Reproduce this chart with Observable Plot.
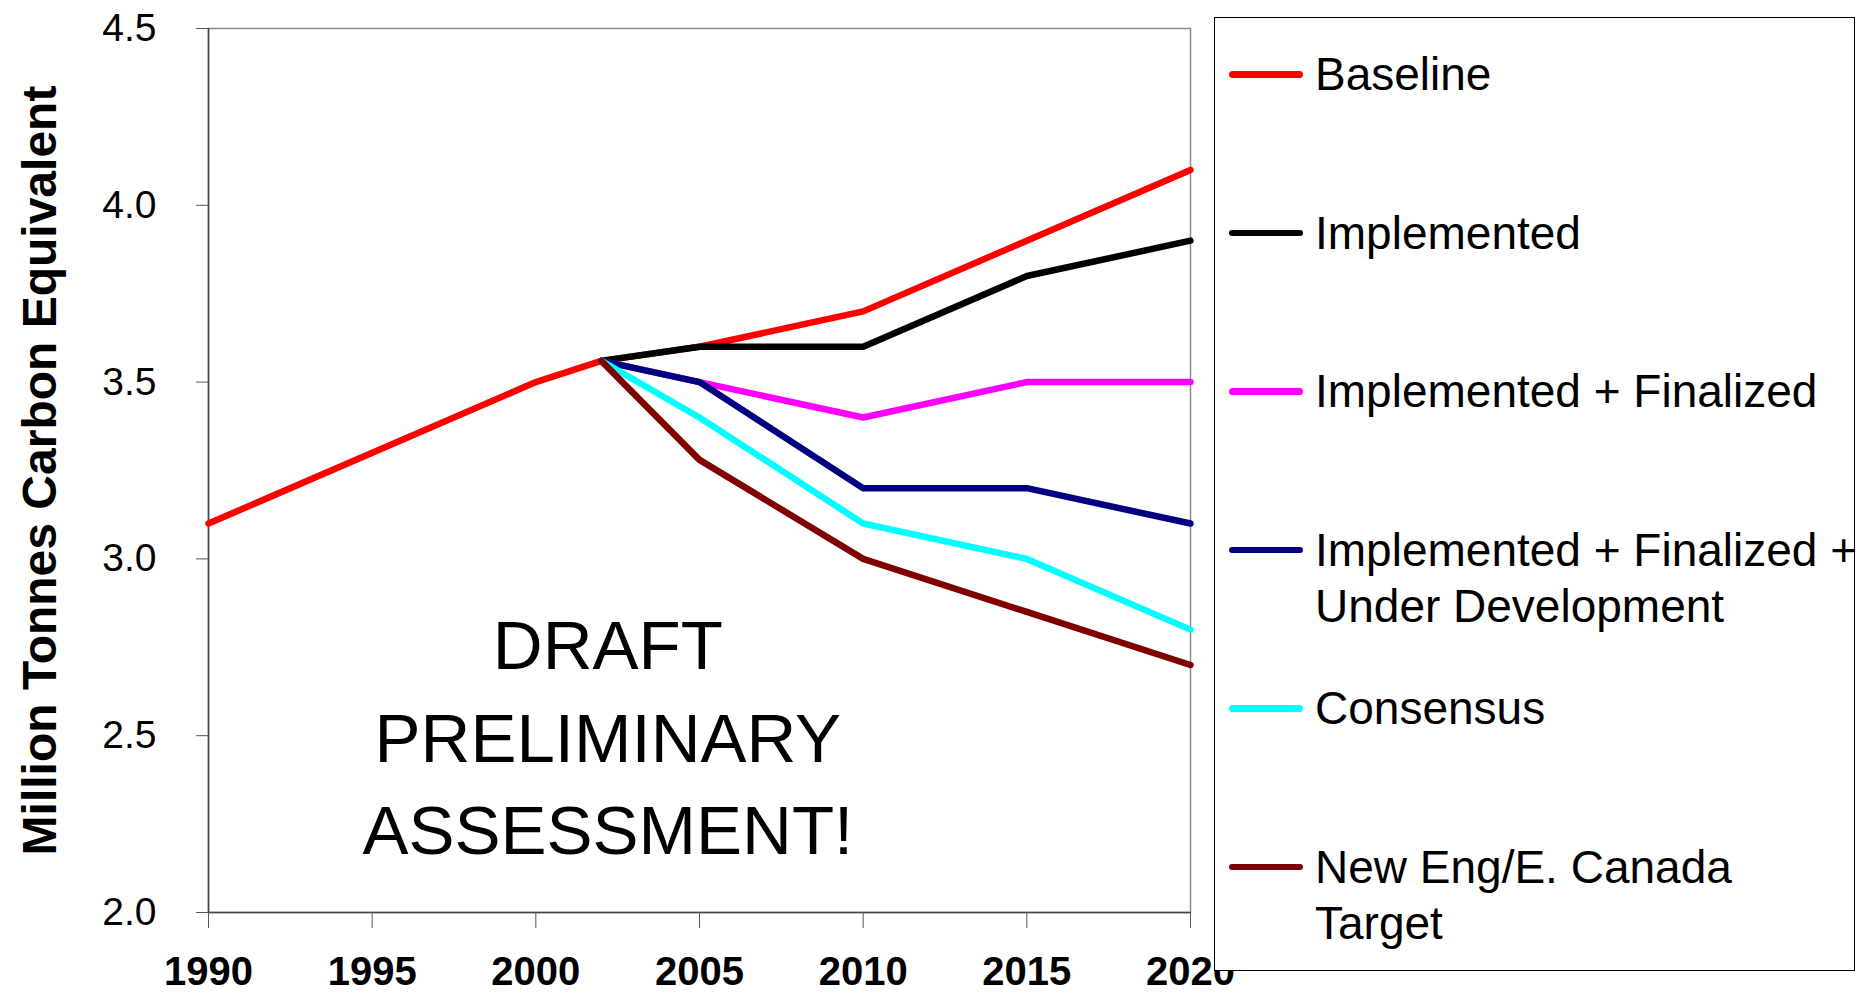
<!DOCTYPE html>
<html>
<head>
<meta charset="utf-8">
<script src="https://cdn.jsdelivr.net/npm/d3@7"></script>
<script src="https://cdn.jsdelivr.net/npm/@observablehq/plot@0.6"></script>
<style>
  body { margin: 0; background: #fff; font-family: "Liberation Sans", Arial, sans-serif; }
  #wrap { position: relative; width: 1862px; height: 993px; overflow: hidden; }
  #legend {
    position: absolute; left: 1214px; top: 17px; width: 641px; height: 954px;
    box-sizing: border-box; border: 1.5px solid #000; background: #fff;
    padding-top: 28px;
  }
  .row { display: flex; align-items: flex-start; height: 158.6px; }
  .sw { width: 74px; height: 56px; margin-left: 14px; margin-right: 12px; position: relative; flex: none; }
  .sw span { position: absolute; left: 0; right: 0; top: 25px; height: 6.5px; border-radius: 3.5px; }
  .lbl { font-size: 46px; line-height: 56px; white-space: nowrap; color: #000; }
</style>
</head>
<body>
<div id="wrap"><div id="chart"></div><div id="legend"></div></div>
<script>
// ---- data ----
const seriesNames = [
  "Baseline",
  "Implemented",
  "Implemented + Finalized",
  "Implemented + Finalized + Under Development",
  "Consensus",
  "New Eng/E. Canada Target"
];
const legendLabels = [
  "Baseline",
  "Implemented",
  "Implemented + Finalized",
  "Implemented + Finalized +<br>Under Development",
  "Consensus",
  "New Eng/E. Canada<br>Target"
];
const seriesColors = ["#FF0000", "#000000", "#FF00FF", "#000080", "#00FFFF", "#800000"];

const baselineYears = [1990, 2000, 2002, 2005, 2010, 2015, 2020];
const baseline      = [3.1, 3.5, 3.56, 3.6, 3.7, 3.9, 4.1];
const projYears     = [2002, 2005, 2010, 2015, 2020];
const implemented   = [3.56, 3.6, 3.6, 3.8, 3.9];
const implFinal     = [3.56, 3.5, 3.4, 3.5, 3.5];
const implFinalDev  = [3.56, 3.5, 3.2, 3.2, 3.1];
const consensus     = [3.56, 3.4, 3.1, 3.0, 2.8];
const target        = [3.56, 3.28, 3.0, 2.85, 2.7];

const xTicks = [1990, 1995, 2000, 2005, 2010, 2015, 2020];
const yTicks = [2.0, 2.5, 3.0, 3.5, 4.0, 4.5];
const yTitle = "Million Tonnes Carbon Equivalent";
const noteText = "DRAFT\nPRELIMINARY\nASSESSMENT!";
const noteYear = 2002.2;
const noteValue = 2.51;

// ---- build table ----
const seriesValues = [baseline, implemented, implFinal, implFinalDev, consensus, target];
const seriesYears = [baselineYears, projYears, projYears, projYears, projYears, projYears];
const rows = [];
seriesNames.forEach((name, s) => {
  seriesValues[s].forEach((v, i) => rows.push({series: name, year: seriesYears[s][i], value: v}));
});

const chart = Plot.plot({
  width: 1862,
  height: 993,
  marginLeft: 208,
  marginRight: 672,
  marginTop: 28,
  marginBottom: 81,
  style: {fontFamily: "'Liberation Sans', Arial, sans-serif", background: "white", color: "#000"},
  x: {domain: [1990, 2020]},
  y: {domain: [2, 4.5]},
  color: {domain: seriesNames, range: seriesColors},
  marks: [
    Plot.frame({stroke: "#8a8a8a", strokeWidth: 1.5}),
    Plot.ruleX([1990], {stroke: "#444", strokeWidth: 1.5}),
    Plot.ruleY([2], {stroke: "#444", strokeWidth: 1.5}),
    Plot.axisY({ticks: yTicks, tickFormat: d3.format(".1f"), tickSize: 12, tickPadding: 40,
      fontSize: 39, stroke: "#555", label: null}),
    Plot.axisX({ticks: xTicks, tickFormat: "d", tickSize: 16, tickPadding: 28,
      fontSize: 40, fontWeight: "bold", stroke: "#555", label: null}),
    Plot.text([yTitle], {frameAnchor: "left", rotate: -90, dx: -168, fontSize: 48,
      fontWeight: "bold", textAnchor: "middle", lineAnchor: "middle", fill: "#000"}),
    Plot.line(rows, {x: "year", y: "value", z: "series", stroke: "series",
      strokeWidth: 6.5, strokeLinejoin: "round", strokeLinecap: "round"}),
    Plot.text([{x: noteYear, y: noteValue, t: noteText}], {x: "x", y: "y", text: "t",
      fontSize: 69, lineHeight: 1.34, fill: "#000"})
  ]
});
document.getElementById("chart").appendChild(chart);

// ---- legend ----
const legend = d3.select("#legend");
seriesNames.forEach((name, i) => {
  const row = legend.append("div").attr("class", "row");
  row.append("div").attr("class", "sw").append("span").style("background", seriesColors[i]);
  row.append("div").attr("class", "lbl").html(legendLabels[i]);
});
</script>
</body>
</html>
